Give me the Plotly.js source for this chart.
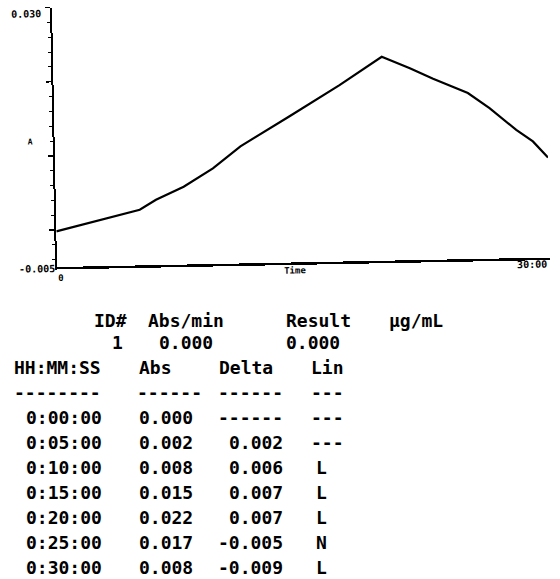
<!DOCTYPE html>
<html><head><meta charset="utf-8">
<script src="https://cdn.plot.ly/plotly-3.0.1.min.js"></script>
<style>
html,body{margin:0;padding:0;background:#fff;width:560px;height:579px;overflow:hidden}
#table{position:absolute;left:0;top:0;width:560px;height:579px}
#chart{position:absolute;left:0;top:0;width:560px;height:290px;transform:rotate(-1.1deg);transform-origin:57px 266.5px}
</style></head><body>
<div id="table"></div><div id="chart"></div>
<script>
// ---- plotted kinetics curve (time in minutes, absorbance) ----
const curveTime = [0, 2.7, 5.1, 6.1, 7.8, 9.6, 11.3, 14.3, 17.4, 20.0, 21.7, 23.1, 25.2, 26.5, 28.1, 29.1, 30.0];
const curveAbs  = [-0.0002, 0.0012, 0.0025, 0.0038, 0.0055, 0.0079, 0.0108, 0.0147, 0.0188, 0.0225, 0.0209, 0.0194, 0.0174, 0.0153, 0.0123, 0.0107, 0.0085];

// ---- axis labels ----
const yAxisLabels = ["0.030", "-0.005"];
const xAxisLabels = ["0", "30:00"];
const yAxisTitle = "A";
const xAxisTitle = "Time";

// ---- result summary ----
const summaryHeader = ["ID#", "Abs/min", "Result", "µg/mL"];
const summaryId = [1];
const summaryRate = [0.000];
const summaryResult = [0.000];

// ---- readings table ----
const tableHeader = ["HH:MM:SS", "Abs", "Delta", "Lin"];
const tableRule = ["--------", "------", "------", "---"];
const tableTime = ["0:00:00", "0:05:00", "0:10:00", "0:15:00", "0:20:00", "0:25:00", "0:30:00"];
const tableAbs = [0.000, 0.002, 0.008, 0.015, 0.022, 0.017, 0.008];
const tableDelta = [null, 0.002, 0.006, 0.007, 0.007, -0.005, -0.009];
const tableLin = ["---", "---", "L", "L", "L", "N", "L"];

// ================= chart =================
const CW = 560, CH = 290;
const cx = p => p / CW, cy = p => 1 - p / CH;
const lblFont = {family: "DejaVu Sans Mono", size: 10, color: "#000", weight: 700};
function clabel(text, x, y, xa, size) {
  return {text: text, x: cx(x), y: cy(y), xref: "paper", yref: "paper", xanchor: xa || "center",
          yanchor: "middle", showarrow: false, font: Object.assign({}, lblFont, {size: size || 10})};
}
Plotly.newPlot("chart", [{
  x: curveTime, y: curveAbs, type: "scatter", mode: "lines",
  line: {color: "#000", width: 2.2}, hoverinfo: "skip"
}], {
  width: CW, height: CH, margin: {l: 0, r: 0, t: 0, b: 0},
  paper_bgcolor: "rgba(0,0,0,0)", plot_bgcolor: "rgba(0,0,0,0)", showlegend: false,
  xaxis: {range: [0, 30], domain: [57 / CW, 550 / CW], showline: true, linecolor: "#000", linewidth: 2.5,
          showgrid: false, zeroline: false, showticklabels: false, ticks: "", fixedrange: true},
  yaxis: {range: [-0.005, 0.030], domain: [cy(267), cy(7.5)], showline: true, linecolor: "#000", linewidth: 2,
          showgrid: false, zeroline: false, showticklabels: false, ticks: "outside", tick0: 0, dtick: 0.01,
          ticklen: 5, tickwidth: 1.5, tickcolor: "#000",
          minor: {ticks: "outside", dtick: 0.002, ticklen: 3, tickwidth: 1, tickcolor: "#000"}, fixedrange: true},
  annotations: [
    clabel(yAxisLabels[0], 31, 14, "center", 10),
    clabel(yAxisTitle, 32, 141.5, "center", 8),
    clabel(yAxisLabels[1], 57, 268.5, "right", 10),
    clabel(xAxisLabels[0], 60, 278, "center", 9),
    clabel(xAxisTitle, 295, 275, "center", 9),
    clabel(xAxisLabels[1], 532, 273, "center", 10)
  ]
}, {staticPlot: true});

// ================= table =================
const TW = 560, TH = 579;
const tx = p => p / TW, ty = p => 1 - p / TH;
const tFont = {family: "DejaVu Sans Mono", size: 18, color: "#000", weight: 700};
function tcell(text, x, y, xa) {
  return {text: text, x: tx(x), y: ty(y), xref: "paper", yref: "paper", xanchor: xa,
          yanchor: "middle", showarrow: false, font: tFont};
}
const ann = [];
// summary header
ann.push(tcell(summaryHeader[0], 92, 320, "left"));
ann.push(tcell(summaryHeader[1], 146, 320, "left"));
ann.push(tcell(summaryHeader[2], 284, 320, "left"));
ann.push(tcell(summaryHeader[3], 387, 320, "left"));
ann.push(tcell(String(summaryId[0]), 125, 342, "right"));
ann.push(tcell(summaryRate[0].toFixed(3), 215, 342, "right"));
ann.push(tcell(summaryResult[0].toFixed(3), 342, 342, "right"));
// table header
const colRight = [104, 195, 285, 342];
ann.push(tcell(tableHeader[0], 12, 367, "left"));
ann.push(tcell(tableHeader[1], 137, 367, "left"));
ann.push(tcell(tableHeader[2], 217, 367, "left"));
ann.push(tcell(tableHeader[3], 309, 367, "left"));
ann.push(tcell(tableRule[0], 12, 392, "left"));
ann.push(tcell(tableRule[1], 135, 392, "left"));
ann.push(tcell(tableRule[2], 216, 392, "left"));
ann.push(tcell(tableRule[3], 309, 392, "left"));
for (let i = 0; i < tableTime.length; i++) {
  const y = 417 + 25 * i;
  ann.push(tcell(tableTime[i], colRight[0], y, "right"));
  ann.push(tcell(tableAbs[i].toFixed(3), colRight[1], y, "right"));
  ann.push(tcell(tableDelta[i] === null ? "------" : tableDelta[i].toFixed(3), colRight[2], y, "right"));
  if (tableLin[i].length > 1) ann.push(tcell(tableLin[i], 309, y, "left"));
  else ann.push(tcell(tableLin[i], 314, y, "left"));
}
Plotly.newPlot("table", [], {
  width: TW, height: TH, margin: {l: 0, r: 0, t: 0, b: 0},
  paper_bgcolor: "#fff", plot_bgcolor: "#fff", showlegend: false,
  xaxis: {visible: false}, yaxis: {visible: false},
  annotations: ann
}, {staticPlot: true});
</script>
</body></html>
